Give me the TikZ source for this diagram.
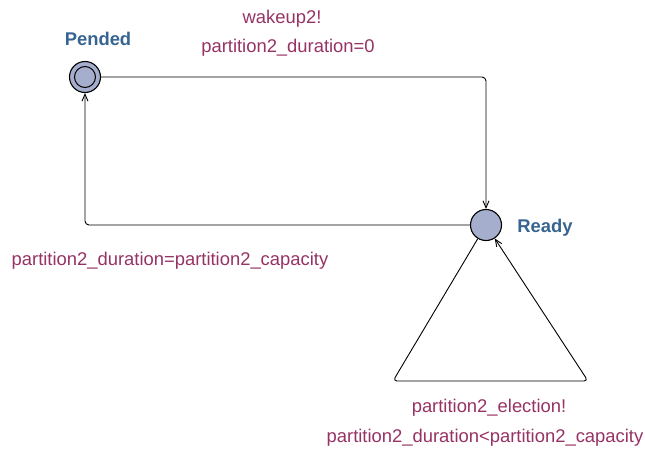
\documentclass[tikz,border=0pt]{standalone}
\usepackage{fontspec}
\setmainfont{Liberation Sans}
\usetikzlibrary{arrows.meta}
\definecolor{labelcol}{RGB}{150,50,100}
\definecolor{namecol}{RGB}{55,100,145}
\definecolor{locfill}{RGB}{166,174,206}
\begin{document}
\begin{tikzpicture}[x=1pt,y=-1pt,
  loc/.style={shape=circle,draw=black,fill=locfill,minimum size=31pt,inner sep=0pt,line width=1.1pt},
  inloc/.style={shape=circle,draw=black,minimum size=21pt,inner sep=0pt,line width=1pt},
  lbl/.style={text=labelcol,font=\fontsize{18.4}{20}\selectfont,inner sep=0pt},
  locname/.style={text=namecol,font=\bfseries\fontsize{18.4}{20}\selectfont,inner sep=0pt},
  trans/.style={draw=black,line width=0.9pt,rounded corners=4pt,-{Straight Barb[length=7pt,width=6pt]}}]
\useasboundingbox (0,0) rectangle (645,450);
\node[loc] (Pended) at (85,77) {};
\node[inloc] (PendedIn) at (Pended) {};
\node[locname] (PendedName) at (98,39) {Pended};
\node[loc] (Ready) at (486,225) {};
\node[locname] (ReadyName) at (545,228) {Ready};
\coordinate (LoopL) at (393,381);
\coordinate (LoopR) at (588,381);
\draw[trans] (Pended) -| (Ready);
\draw[trans] (Ready) -| (Pended);
\draw[trans] (Ready.239) -- (LoopL) -- (LoopR) -- (Ready.303);
\node[lbl] (sync1) at (282,19) {wakeup2!};
\node[lbl] (upd1) at (288,48) {partition2\_duration=0};
\node[lbl] (upd2) at (170,261) {partition2\_duration=partition2\_capacity};
\node[lbl] (sync3) at (489,408) {partition2\_election!};
\node[lbl] (guard3) at (485,438) {partition2\_duration<partition2\_capacity};
\end{tikzpicture}
\end{document}
